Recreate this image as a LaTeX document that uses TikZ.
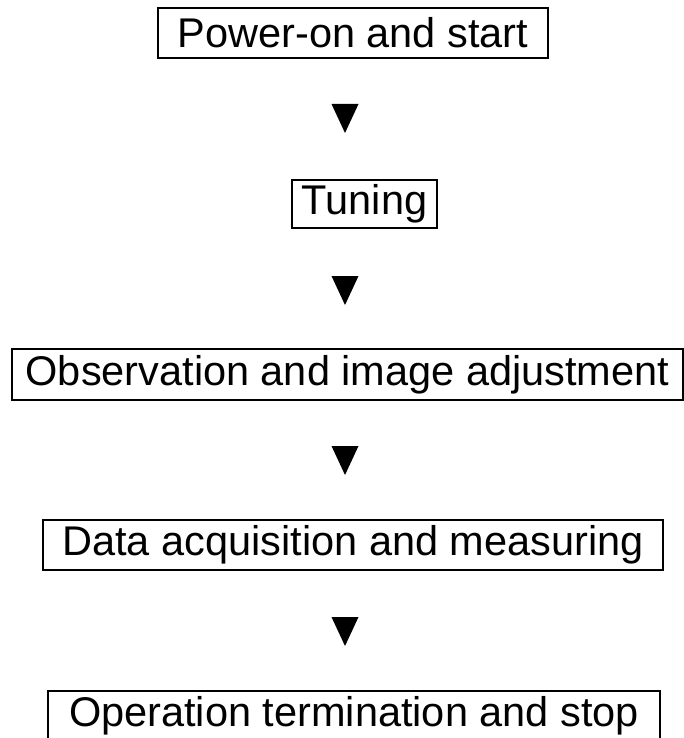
\documentclass[tikz,border=0pt]{standalone}
\usepackage{fontspec}
\setmainfont{Liberation Sans}
\begin{document}
\begin{tikzpicture}[x=1pt,y=-1pt,
  stepbox/.style={draw, line width=1.8pt, inner sep=0pt, anchor=center,
    font=\fontsize{41.5}{41.5}\selectfont},
  tri/.style={fill=black}]
\useasboundingbox (0,0) rectangle (684,738);
\node[stepbox, minimum width=390, minimum height=50] (b1) at (353,33) {Power-on and start};
\node[stepbox, minimum width=145, minimum height=48] (b2) at (364.5,204) {Tuning};
\node[stepbox, minimum width=671, minimum height=51] (b3) at (347.5,374.5) {Observation and image adjustment};
\node[stepbox, minimum width=620, minimum height=50] (b4) at (353,545) {Data acquisition and measuring};
\node[stepbox, minimum width=612, minimum height=50] (b5) at (354,716) {Operation termination and stop};
\coordinate (t1) at (345,104);
\coordinate (t2) at (345,276);
\coordinate (t3) at (345,446);
\coordinate (t4) at (345,617);
\foreach \t in {t1,t2,t3,t4}{
  \fill[tri] (\t) ++(-13.5,0) -- ++(27,0) -- ++(-13.5,29) -- cycle;
}
\end{tikzpicture}
\end{document}
